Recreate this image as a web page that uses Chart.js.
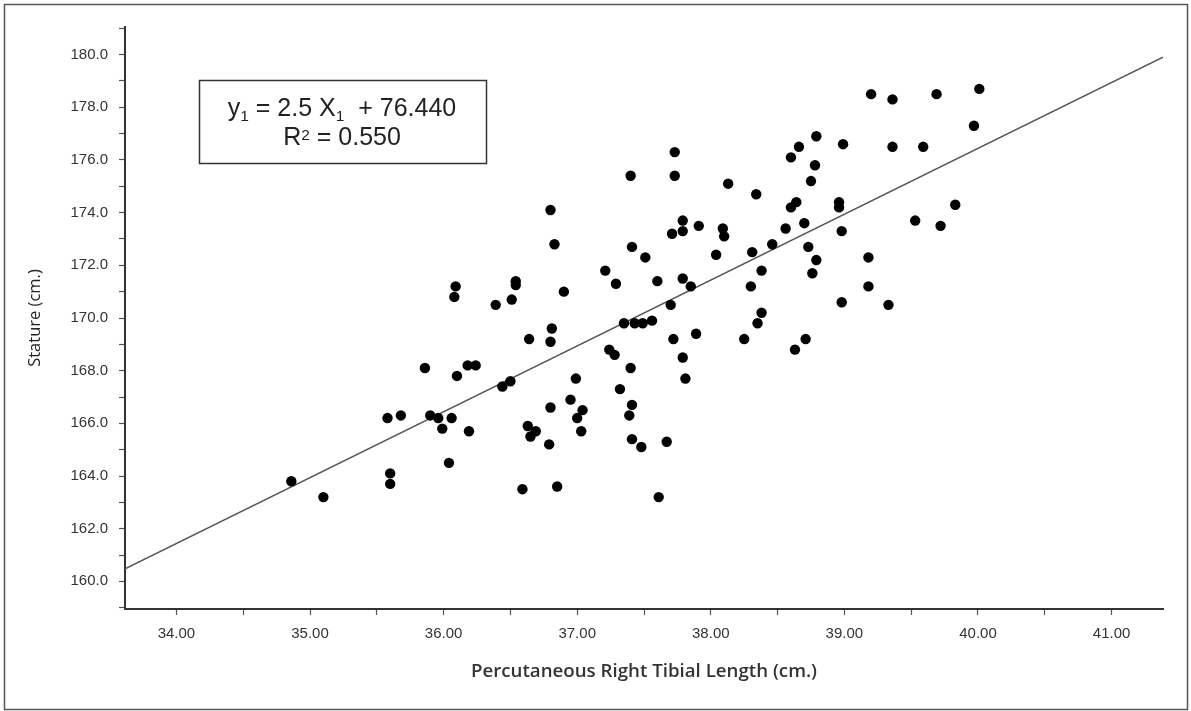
<!DOCTYPE html>
<html>
<head>
<meta charset="utf-8">
<title>Stature vs Tibial Length</title>
<script src="https://cdn.jsdelivr.net/npm/chart.js@4.4.1/dist/chart.umd.min.js"></script>
<style>
  html, body { margin: 0; padding: 0; background: #fff; }
  #wrap { width: 1191px; height: 711px; }
</style>
</head>
<body>
<div id="wrap"><canvas id="scatterChart" width="1191" height="711"></canvas></div>
<script>
// Percutaneous right tibial length (cm.)
const tibiaLength = [
    34.86, 35.10, 35.60, 35.60, 35.58, 35.68, 35.86, 35.90, 35.96, 36.06,
    35.99, 36.04, 36.09, 36.08, 36.10, 36.18, 36.24, 36.19, 36.39, 36.44,
    36.50, 36.51, 36.54, 36.54, 36.59, 36.63, 36.64, 36.65, 36.69, 36.79,
    36.80, 36.80, 36.81, 36.83, 36.80, 36.85, 36.90, 36.95, 36.99, 37.00,
    37.04, 37.03, 37.21, 37.24, 37.28, 37.29, 37.32, 37.35, 37.39, 37.40,
    37.40, 37.41, 37.41, 37.41, 37.43, 37.48, 37.49, 37.51, 37.56, 37.60,
    37.61, 37.67, 37.70, 37.71, 37.72, 37.73, 37.73, 37.79, 37.79, 37.79,
    37.79, 37.81, 37.85, 37.89, 37.91, 38.04, 38.09, 38.10, 38.13, 38.25,
    38.30, 38.31, 38.34, 38.35, 38.38, 38.38, 38.46, 38.56, 38.60, 38.60,
    38.63, 38.64, 38.66, 38.70, 38.71, 38.73, 38.75, 38.76, 38.78, 38.79,
    38.79, 38.96, 38.96, 38.98, 38.98, 38.99, 39.18, 39.18, 39.20, 39.33,
    39.36, 39.36, 39.53, 39.59, 39.69, 39.72, 39.83, 39.97, 40.01
];

// Stature (cm.)
const stature = [
    163.8, 163.2, 164.1, 163.7, 166.2, 166.3, 168.1, 166.3, 166.2, 166.2,
    165.8, 164.5, 171.2, 170.8, 167.8, 168.2, 168.2, 165.7, 170.5, 167.4,
    167.6, 170.7, 171.4, 171.25, 163.5, 165.9, 169.2, 165.5, 165.7, 165.2,
    166.6, 169.1, 169.6, 172.8, 174.1, 163.6, 171.0, 166.9, 167.7, 166.2,
    166.5, 165.7, 171.8, 168.8, 168.6, 171.3, 167.3, 169.8, 166.3, 168.1,
    175.4, 172.7, 166.7, 165.4, 169.8, 165.1, 169.8, 172.3, 169.9, 171.4,
    163.2, 165.3, 170.5, 173.2, 169.2, 176.3, 175.4, 173.7, 173.3, 171.5,
    168.5, 167.7, 171.2, 169.4, 173.5, 172.4, 173.4, 173.1, 175.1, 169.2,
    171.2, 172.5, 174.7, 169.8, 171.8, 170.2, 172.8, 173.4, 174.2, 176.1,
    168.8, 174.4, 176.5, 173.6, 169.2, 172.7, 175.2, 171.7, 175.8, 172.2,
    176.9, 174.4, 174.2, 173.3, 170.6, 176.6, 172.3, 171.2, 178.5, 170.5,
    178.3, 176.5, 173.7, 176.5, 178.5, 173.5, 174.3, 177.3, 178.7
];

// fitted line from the equation shown on the chart
const slope = 2.5;
const intercept = 76.44;
const rSquared = 0.550;

const xRange = [33.615, 41.385];
const yRange = [158.95, 181.05];
const xLabelStep = 1;   // labelled every 1 cm, minor tick every 0.5
const yLabelStep = 2;   // labelled every 2 cm, minor tick every 1

const xTitle = 'Percutaneous Right Tibial Length (cm.)';
const yTitle = 'Stature (cm.)';

// equation text, split into pieces so the 1 and 2 can be set small
const equationLines = [
    [['y', ''], ['1', 'sub'], [' = 2.5 X', ''], ['1', 'sub'], ['  + ' + intercept.toFixed(3), '']],
    [['R', ''], ['2', 'sup'], [' = ' + rSquared.toFixed(3), '']]
];

const points = tibiaLength.map((x, i) => ({ x: x, y: stature[i] }));
const fitLine = xRange.map(x => ({ x: x, y: slope * x + intercept }));

function stepTicks(scale, step) {
    const out = [];
    const start = Math.ceil(scale.min / step - 1e-9) * step;
    for (let v = start; v <= scale.max + 1e-9; v += step) {
        out.push({ value: Math.round(v * 100) / 100 });
    }
    scale.ticks = out;
}

const equationBox = {
    id: 'equationBox',
    afterDraw(chart) {
        const ctx = chart.ctx;
        ctx.save();

        // outer frame of the figure
        ctx.strokeStyle = '#555';
        ctx.lineWidth = 1.5;
        ctx.strokeRect(4.5, 4.5, 1183, 705);

        // equation box
        ctx.fillStyle = '#fff';
        ctx.fillRect(199.5, 80.5, 287, 83);
        ctx.strokeStyle = '#333';
        ctx.lineWidth = 1.5;
        ctx.strokeRect(199.5, 80.5, 287, 83);

        const family = '"Liberation Sans", Arial, sans-serif';
        const big = '25px ' + family;
        const small = '15.5px ' + family;
        const baselines = [115.5, 145];
        const centerX = 342;

        ctx.fillStyle = '#222';
        ctx.textBaseline = 'alphabetic';
        ctx.textAlign = 'left';
        equationLines.forEach((parts, li) => {
            let total = 0;
            parts.forEach(p => {
                ctx.font = p[1] ? small : big;
                total += ctx.measureText(p[0]).width;
            });
            let x = centerX - total / 2;
            parts.forEach(p => {
                ctx.font = p[1] ? small : big;
                let dy = 0;
                if (p[1] === 'sub') dy = 5;
                if (p[1] === 'sup') dy = -5;
                ctx.fillText(p[0], x, baselines[li] + dy);
                x += ctx.measureText(p[0]).width;
            });
        });
        ctx.restore();
    }
};

const tickFont = { family: '"Liberation Sans", Arial, sans-serif', size: 15 };

new Chart(document.getElementById('scatterChart'), {
    type: 'scatter',
    data: {
        datasets: [
            {
                label: 'Stature',
                data: points,
                backgroundColor: '#000',
                borderWidth: 0,
                pointRadius: 5.2,
                order: 0
            },
            {
                type: 'line',
                label: 'Fit',
                data: fitLine,
                borderColor: '#555',
                borderWidth: 1.6,
                pointRadius: 0,
                fill: false,
                order: 1
            }
        ]
    },
    options: {
        responsive: false,
        animation: false,
        devicePixelRatio: 1,
        layout: { padding: { left: 0, right: 28, top: 27, bottom: 0 } },
        plugins: {
            legend: { display: false },
            tooltip: { enabled: false }
        },
        scales: {
            x: {
                type: 'linear',
                min: xRange[0],
                max: xRange[1],
                afterBuildTicks: s => stepTicks(s, xLabelStep / 2),
                afterFit: s => { s.height = 102; },
                border: { color: '#333', width: 2 },
                grid: { drawOnChartArea: false, drawTicks: true, tickLength: 6, tickColor: '#555', tickWidth: 1.2 },
                ticks: {
                    color: '#333',
                    font: tickFont,
                    padding: 10,
                    maxRotation: 0,
                    autoSkip: false,
                    callback: v => (Math.abs(v % xLabelStep) < 1e-6 ? v.toFixed(2) : '')
                },
                title: {
                    display: true,
                    text: xTitle,
                    color: '#333',
                    font: { family: '"Open Sans", sans-serif', size: 18.7, weight: '600' },
                    padding: { top: 0, bottom: 28 }
                }
            },
            y: {
                type: 'linear',
                min: yRange[0],
                max: yRange[1],
                afterBuildTicks: s => stepTicks(s, yLabelStep / 2),
                afterFit: s => { s.width = 125; },
                border: { color: '#333', width: 2 },
                grid: { drawOnChartArea: false, drawTicks: true, tickLength: 6, tickColor: '#555', tickWidth: 1.2 },
                ticks: {
                    color: '#333',
                    font: tickFont,
                    padding: 11,
                    autoSkip: false,
                    callback: v => (Math.abs(v % yLabelStep) < 1e-6 ? v.toFixed(1) : '')
                },
                title: {
                    display: true,
                    text: yTitle,
                    color: '#222',
                    font: { family: '"Open Sans", sans-serif', size: 16.5 },
                    padding: { top: 25, bottom: 0 }
                }
            }
        }
    },
    plugins: [equationBox]
});
</script>
</body>
</html>
